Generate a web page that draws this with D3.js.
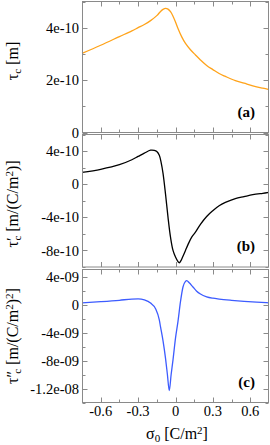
<!DOCTYPE html>
<html><head><meta charset="utf-8">
<script src="https://cdn.jsdelivr.net/npm/d3@7"></script>
<style>
html,body{margin:0;padding:0;background:#fff;}
svg{display:block;}
</style></head>
<body><svg id="c" width="270" height="445"></svg>
<script>
// ---- data ----
const sigmaA = [-0.75,-0.6,-0.45,-0.35,-0.3,-0.25,-0.2,-0.15,-0.12,-0.1,-0.08,-0.06,-0.04,-0.02,0,0.02,0.05,0.08,0.12,0.16,0.2,0.25,0.3,0.35,0.4,0.48,0.55,0.62,0.7,0.75];
const tauA   = [3.02,3.33,3.66,3.88,4.0,4.12,4.27,4.46,4.62,4.70,4.74,4.71,4.61,4.44,4.22,3.97,3.65,3.40,3.16,2.96,2.77,2.56,2.40,2.25,2.14,1.98,1.88,1.78,1.69,1.64].map(v=>v*1e-10);

const sigmaB = [-0.75,-0.6,-0.45,-0.35,-0.3,-0.25,-0.2,-0.17,-0.15,-0.13,-0.115,-0.1,-0.08,-0.06,-0.04,-0.02,0,0.02,0.03,0.045,0.06,0.08,0.1,0.13,0.16,0.2,0.25,0.3,0.35,0.4,0.48,0.55,0.62,0.7,0.75];
const tauB   = [1.42,1.80,2.35,2.95,3.35,3.75,4.10,4.08,3.95,3.5,2.6,1.3,-1.2,-4.0,-6.4,-8.0,-8.8,-9.35,-9.5,-9.2,-8.7,-8.0,-7.3,-6.4,-5.8,-4.85,-3.9,-3.2,-2.6,-2.2,-1.74,-1.5,-1.27,-1.1,-1.0].map(v=>v*1e-10);

const sigmaC = [-0.75,-0.6,-0.45,-0.35,-0.3,-0.25,-0.2,-0.16,-0.13,-0.12,-0.1,-0.08,-0.065,-0.05,-0.035,-0.02,0,0.02,0.04,0.06,0.08,0.09,0.11,0.14,0.17,0.2,0.25,0.3,0.35,0.45,0.55,0.65,0.75];
const tauC   = [0.24,0.4,0.6,0.78,0.8,0.65,0.2,-0.6,-2.2,-3.2,-5.2,-7.7,-10.0,-12.3,-10.0,-7.9,-4.8,-2.4,0.4,2.5,3.3,3.4,3.1,2.5,1.9,1.5,1.1,0.9,0.78,0.6,0.45,0.33,0.24].map(v=>v*1e-9);

const xTicksMajor = [-0.6,-0.3,0,0.3,0.6];
const xTickLabels = ["-0.6","-0.3","0","0.3","0.6"];
const xTicksMinor = [-0.45,-0.15,0.15,0.45];

const yTicksA = [0,2e-10,4e-10];       const yLabelsA = ["0","2e-10","4e-10"];
const yMinorA = [1e-10,3e-10,5e-10];
const yTicksB = [-8e-10,-4e-10,0,4e-10]; const yLabelsB = ["-8e-10","-4e-10","0","4e-10"];
const yMinorB = [-1e-9,-6e-10,-2e-10,2e-10,6e-10];
const yTicksC = [-1.2e-8,-8e-9,-4e-9,0,4e-9]; const yLabelsC = ["-1.2e-08","-8e-09","-4e-09","0","4e-09"];
const yMinorC = [-1.4e-8,-1e-8,-6e-9,-2e-9,2e-9];

// ---- layout ----
const FONT = "Liberation Serif";
const svg = d3.select("#c");
const L = 82, R = 269;
const x = d3.scaleLinear().domain([-0.75,0.75]).range([L,R]);
const frame = "#8a8a8a";

function txt(sel){ return sel.append("text").style("font-family",FONT); }

const panels = [
  {top:1.5, bot:132.5, dom:[0,5e-10], xs:sigmaA, ys:tauA, color:"#ffa31a", ticks:yTicksA, labels:yLabelsA, minor:yMinorA, tag:"(a)", curve:d3.curveCatmullRom.alpha(0.5), lc:61,
   ylab:[["τ",null],["c","sub"],[" [m]",null]]},
  {top:134.5, bot:267, dom:[-1e-9,6e-10], xs:sigmaB, ys:tauB, color:"#000000", ticks:yTicksB, labels:yLabelsB, minor:yMinorB, tag:"(b)", curve:d3.curveCatmullRom.alpha(0.5), lc:204,
   ylab:[["τ′",null],["c","sub2"],[" [m/(C/m",null],["2","sup"],[")]",null]]},
  {top:269.5, bot:402.5, dom:[-1.4e-8,5e-9], xs:sigmaC, ys:tauC, color:"#3d5cff", ticks:yTicksC, labels:yLabelsC, minor:yMinorC, tag:"(c)", curve:d3.curveMonotoneX, lc:336,
   ylab:[["τ″",null],["c","sub2"],[" [m/(C/m",null],["2","sup"],[")",null],["2","sup"],["]",null]]}
];

panels.forEach((p,i)=>{
  const y = d3.scaleLinear().domain(p.dom).range([p.bot,p.top]);
  const g = svg.append("g");
  const line = d3.line().x((d,j)=>x(p.xs[j])).y(d=>y(d)).curve(p.curve);
  g.append("path").datum(p.ys).attr("d",line).attr("fill","none").attr("stroke",p.color).attr("stroke-width",1.3);
  g.append("rect").attr("x",L+0.5).attr("y",p.top).attr("width",R-L-1).attr("height",p.bot-p.top)
    .attr("fill","none").attr("stroke",frame).attr("stroke-width",1);
  const xt = (vals,len)=>vals.forEach(v=>{
    const px = Math.round(x(v))+0.5;
    g.append("line").attr("x1",px).attr("x2",px).attr("y1",p.bot).attr("y2",p.bot-len).attr("stroke",frame);
    g.append("line").attr("x1",px).attr("x2",px).attr("y1",p.top).attr("y2",p.top+len).attr("stroke",frame);
  });
  xt(xTicksMajor,5); xt(xTicksMinor,3);
  const yt = (vals,len)=>vals.forEach(v=>{
    const py = Math.round(y(v))+0.5;
    if (py < p.top-0.5 || py > p.bot+1) return;
    g.append("line").attr("x1",L+0.5).attr("x2",L+0.5+len).attr("y1",py).attr("y2",py).attr("stroke",frame);
    g.append("line").attr("x1",R-0.5).attr("x2",R-0.5-len).attr("y1",py).attr("y2",py).attr("stroke",frame);
  });
  yt(p.ticks,5); yt(p.minor,3);
  p.ticks.forEach((v,j)=>{
    txt(g).attr("x",L-3).attr("y",y(v)).attr("dy","0.35em").attr("text-anchor","end")
      .attr("font-size",14.5).attr("fill","#000").text(p.labels[j]);
  });
  txt(g).attr("x",255).attr("y",p.bot-16).attr("text-anchor","end").attr("font-size",15)
    .attr("font-weight","bold").text(p.tag);
  const t = txt(g).attr("transform",`translate(18,${p.lc}) rotate(-90)`).attr("text-anchor","middle").attr("font-size",16);
  p.ylab.forEach(([s,k])=>{
    const ts = t.append("tspan").text(s);
    if (k==="sub") ts.attr("font-size",11).attr("baseline-shift","-25%");
    if (k==="sub2") ts.attr("font-size",11).attr("baseline-shift","-25%").attr("dx",-3);
    if (k==="sup") ts.attr("font-size",11).attr("baseline-shift","45%");
  });
  if (i===2) {
    xTicksMajor.forEach((v,j)=>{
      txt(g).attr("x",x(v)).attr("y",416).attr("text-anchor","middle").attr("font-size",14.5).text(xTickLabels[j]);
    });
    const xl = txt(g).attr("x",177).attr("y",439).attr("text-anchor","middle").attr("font-size",16);
    xl.append("tspan").text("σ");
    xl.append("tspan").text("0").attr("font-size",11).attr("baseline-shift","-25%");
    xl.append("tspan").text(" [C/m");
    xl.append("tspan").text("2").attr("font-size",11).attr("baseline-shift","45%");
    xl.append("tspan").text("]");
  }
});
</script></body></html>
